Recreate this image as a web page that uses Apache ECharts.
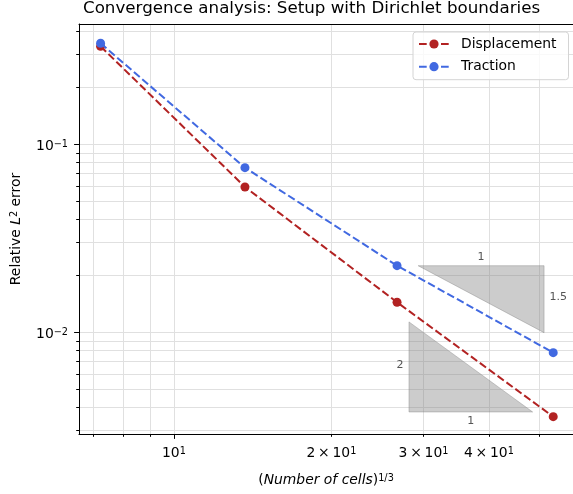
<!DOCTYPE html>
<html>
<head>
<meta charset="utf-8">
<script src="https://cdn.jsdelivr.net/npm/echarts@6/dist/echarts.min.js"></script>
<style>
  html, body { margin: 0; padding: 0; background: #fff; }
  #chart { width: 573px; height: 494px; }
</style>
</head>
<body>
<div id="chart"></div>
<script>
// (Number of cells)^(1/3) for each refinement level
const cellsCbrt = [7.24, 13.67, 26.7, 53.1]
const displacementErr = [0.332, 0.0593, 0.01444, 0.003556]
const tractionErr = [0.3446, 0.0751, 0.02261, 0.00779]

// axis ticks
const xMajorTicks = [10]
const xMinorTicks = [7, 8, 9, 20, 30, 40, 50]
const xTickLabels = [10, 20, 30, 40]
const yMajorTicks = [0.01, 0.1]
const yMinorTicks = [0.003, 0.004, 0.005, 0.006, 0.007, 0.008, 0.009,
  0.02, 0.03, 0.04, 0.05, 0.06, 0.07, 0.08, 0.09, 0.2, 0.3, 0.4]
const yTickLabels = [0.01, 0.1]

// slope triangles: right-angle corner, end of the run, end of the rise
const triCorner = [[51.0, 0.0226], [28.14, 0.003766]]
const triRunEndX = [29.3, 48.5]
const triRiseEndY = [0.00995, 0.01135]
const triRunLabel = ['1', '1']
const triRiseLabel = ['1.5', '2']

const FONT = 'DejaVu Sans'
// the axes box runs a few px past the right edge of the picture, so cut it at the edge
const X_MIN = 6.584, X_MAX = 57.93
const Y_MIN = 0.002875, Y_MAX = 0.4365

const tickRich = {
  b: { fontFamily: FONT, fontSize: 13.9, lineHeight: 14, padding: [4, 0, 0, 0], verticalAlign: 'bottom', color: '#000' },
  sup: { fontFamily: FONT, fontSize: 9.7, lineHeight: 10, verticalAlign: 'top', color: '#000' },
}
const nameRich = {
  b: { fontFamily: FONT, fontSize: 13.9, lineHeight: 14, padding: [4, 0, 0, 0], verticalAlign: 'bottom', color: '#000' },
  i: { fontFamily: FONT, fontStyle: 'italic', fontSize: 13.9, lineHeight: 14, padding: [4, 0, 0, 0], verticalAlign: 'bottom', color: '#000' },
  sup: { fontFamily: FONT, fontSize: 9.7, lineHeight: 10, verticalAlign: 'top', color: '#000' },
}

function logAxis(min, max, extra) {
  return Object.assign({
    type: 'log',
    min: min,
    max: max,
    gridIndex: 0,
    axisLine: { show: false, onZero: false },
    axisTick: { show: false },
    axisLabel: { show: false },
    splitLine: { show: false },
    minorTick: { show: false },
    minorSplitLine: { show: false },
  }, extra)
}

const chart = echarts.init(document.getElementById('chart'))

const option = {
  animation: false,
  backgroundColor: '#fff',
  title: {
    text: 'Convergence analysis: Setup with Dirichlet boundaries',
    left: 83,
    top: 0,
    padding: 0,
    textStyle: { fontFamily: FONT, fontSize: 16.7, fontWeight: 'normal', color: '#000' },
  },
  legend: {
    data: ['Displacement', 'Traction'],
    orient: 'vertical',
    left: 413,
    top: 32,
    padding: [5, 12, 6, 5],
    itemWidth: 30,
    itemHeight: 11.5,
    itemGap: 8.7,
    backgroundColor: 'rgba(255,255,255,0.8)',
    borderColor: '#d4d4d4',
    borderWidth: 1,
    borderRadius: 3,
    textStyle: { fontFamily: FONT, fontSize: 13.9, color: '#000', padding: [0, 0, 0, 7] },
  },
  grid: {
    left: 79,
    top: 24,
    right: 0,
    height: 410,
    outerBoundsMode: 'none',
    containLabel: false,
  },
  xAxis: [
    logAxis(X_MIN, X_MAX, {
      position: 'bottom',
      name: '{b|(}{i|Number of cells}{b|)}{sup|1/3}',
      nameLocation: 'middle',
      nameGap: 39,
      nameTextStyle: { rich: nameRich },
      axisLine: { show: true, onZero: false, lineStyle: { color: '#000', width: 1 } },
      axisTick: { show: true, length: 2.8, customValues: xMinorTicks.concat(xMajorTicks), lineStyle: { color: '#000', width: 1 } },
      splitLine: { show: true, lineStyle: { color: '#e0e0e0', width: 1 } },
      axisLabel: {
        show: true,
        margin: 12,
        customValues: xTickLabels,
        formatter: function (v) {
          const m = Math.round(v / 10)
          return m === 1 ? '{b|10}{sup|1}' : '{b|' + m + '\u2009×\u200910}{sup|1}'
        },
        rich: tickRich,
      },
    }),
    logAxis(X_MIN, X_MAX, {
      position: 'bottom',
      axisTick: { show: true, length: 4.9, customValues: xMajorTicks, lineStyle: { color: '#000', width: 1 } },
    }),
    // top spine
    logAxis(X_MIN, X_MAX, {
      position: 'top',
      axisLine: { show: true, onZero: false, lineStyle: { color: '#000', width: 1 } },
    }),
  ],
  yAxis: [
    logAxis(Y_MIN, Y_MAX, {
      position: 'left',
      name: '{b|Relative }{i|L}{sup|2}{b| error}',
      nameLocation: 'middle',
      nameRotate: 90,
      nameGap: 56,
      nameTextStyle: { rich: nameRich },
      axisLine: { show: true, onZero: false, lineStyle: { color: '#000', width: 1 } },
      axisTick: { show: true, length: 2.8, customValues: yMinorTicks.concat(yMajorTicks), lineStyle: { color: '#000', width: 1 } },
      splitLine: { show: true, lineStyle: { color: '#e0e0e0', width: 1 } },
      axisLabel: {
        show: true,
        margin: 11,
        padding: [4, 0, 0, 0],
        customValues: yTickLabels,
        formatter: function (v) {
          const e = Math.round(Math.log10(v))
          return '{b|10}{sup|−' + (-e) + '}'
        },
        rich: tickRich,
      },
    }),
    logAxis(Y_MIN, Y_MAX, {
      position: 'left',
      axisTick: { show: true, length: 4.9, customValues: yMajorTicks, lineStyle: { color: '#000', width: 1 } },
    }),
  ],
  series: [
    {
      type: 'custom',
      xAxisIndex: 0,
      yAxisIndex: 0,
      silent: true,
      z: 1,
      data: triCorner,
      encode: { x: 0, y: 1 },
      renderItem: function (params, api) {
        const i = params.dataIndex
        const c = triCorner[i]
        const pc = api.coord(c)
        const pr = api.coord([triRunEndX[i], c[1]])
        const pu = api.coord([c[0], triRiseEndY[i]])
        // labels sit on the outer side of each leg
        const runMid = api.coord([Math.sqrt(c[0] * triRunEndX[i]), c[1]])
        const riseMid = api.coord([c[0], Math.sqrt(c[1] * triRiseEndY[i])])
        const runDir = pu[1] < pc[1] ? 1 : -1
        const riseDir = pr[0] < pc[0] ? 1 : -1
        const labelStyle = { fontFamily: FONT, fontSize: 11, fill: '#555' }
        return {
          type: 'group',
          children: [
            {
              type: 'polygon',
              shape: { points: [pr, pc, pu] },
              style: { fill: 'rgba(128,128,128,0.4)', stroke: 'rgba(128,128,128,0.4)', lineWidth: 1 },
            },
            {
              type: 'text',
              x: runMid[0],
              y: runMid[1] + runDir * 9,
              style: Object.assign({ text: triRunLabel[i], align: 'center', verticalAlign: 'middle' }, labelStyle),
            },
            {
              type: 'text',
              x: riseMid[0] + riseDir * 5.5,
              y: riseMid[1] - 2,
              style: Object.assign({ text: triRiseLabel[i], align: riseDir > 0 ? 'left' : 'right', verticalAlign: 'middle' }, labelStyle),
            },
          ],
        }
      },
    },
    {
      name: 'Displacement',
      type: 'line',
      xAxisIndex: 0,
      yAxisIndex: 0,
      z: 3,
      data: cellsCbrt.map((x, i) => [x, displacementErr[i]]),
      symbol: 'circle',
      symbolSize: 9,
      color: '#b22222',
      itemStyle: { color: '#b22222' },
      lineStyle: { color: '#b22222', width: 2, type: [7.7, 3.3] },
    },
    {
      name: 'Traction',
      type: 'line',
      xAxisIndex: 0,
      yAxisIndex: 0,
      z: 4,
      data: cellsCbrt.map((x, i) => [x, tractionErr[i]]),
      symbol: 'circle',
      symbolSize: 9,
      color: '#4169e1',
      itemStyle: { color: '#4169e1' },
      lineStyle: { color: '#4169e1', width: 2, type: [7.7, 3.3] },
    },
  ],
}

chart.setOption(option)
</script>
</body>
</html>
